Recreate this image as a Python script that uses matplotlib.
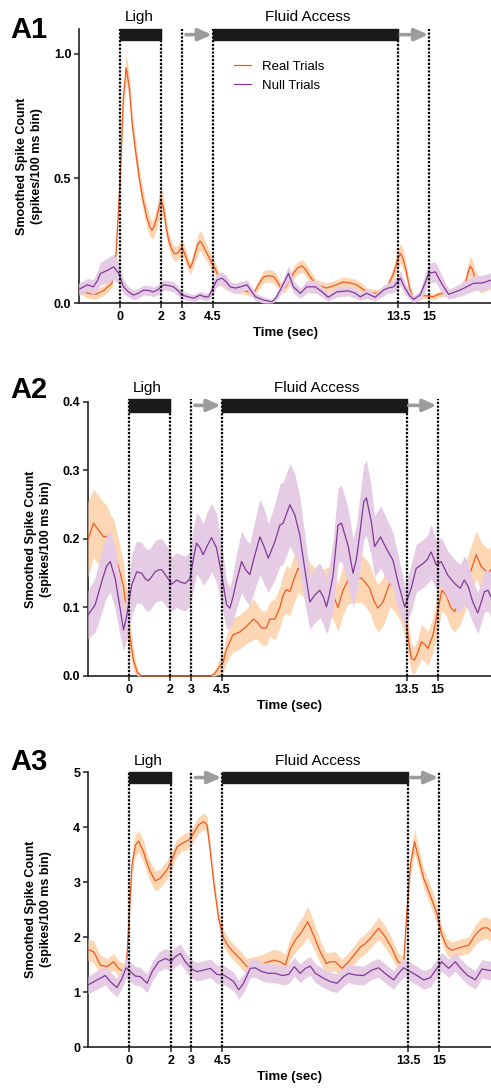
import matplotlib
matplotlib.use("Agg")
import matplotlib.pyplot as plt
from matplotlib.patches import Rectangle

plt.rcParams['font.family'] = ['Liberation Sans', 'DejaVu Sans']

# ---- data (time in sec) ----
event_ticks = [0, 2, 3, 4.5, 13.5, 15]
event_labels = ["0", "2", "3", "4.5", "13.5", "15"]

# A1
t_real_a1 = [-2.0, -1.6, -1.2, -0.8, -0.4, -0.2, 0.0, 0.15, 0.29, 0.45, 0.57, 0.7, 0.81, 0.93,
             1.05, 1.17, 1.29, 1.42, 1.54, 1.66, 1.78, 1.9, 1.98, 2.1, 2.22, 2.35, 2.48, 2.6,
             2.72, 2.83, 3.0, 3.12, 3.24, 3.4, 3.52, 3.64, 3.76, 3.88, 4.0, 4.13, 4.3, 4.45,
             4.6, 4.75, 5.0, 5.5, 6.0, 6.48, 6.72, 6.96, 7.2, 7.44, 7.6, 7.77, 8.0, 8.2, 8.41,
             8.6, 8.82, 9.0, 9.22, 9.5, 10.0, 10.4, 10.84, 11.2, 11.48, 11.7, 11.97, 12.4,
             12.78, 13.0, 13.27, 13.45, 13.6, 13.72, 13.83, 13.95, 14.07, 14.24, 14.45, 14.72,
             15.0, 15.2, 15.45, 15.7, 16.0, 16.2, 16.5, 16.75, 16.88, 16.99, 17.1, 17.2, 17.5,
             17.8, 18.0]
real_a1 = [0.06, 0.04, 0.035, 0.05, 0.08, 0.2, 0.5, 0.82, 0.945, 0.86, 0.73, 0.64, 0.57, 0.5,
           0.44, 0.39, 0.345, 0.31, 0.292, 0.31, 0.345, 0.39, 0.412, 0.385, 0.31, 0.252, 0.22, 0.2,
           0.198, 0.205, 0.225, 0.2, 0.172, 0.14, 0.165, 0.2, 0.235, 0.249, 0.235, 0.212, 0.185, 0.16,
           0.14, 0.11, 0.08, 0.06, 0.05, 0.039, 0.075, 0.105, 0.11, 0.106, 0.09, 0.065, 0.06, 0.09, 0.119,
           0.14, 0.149, 0.135, 0.105, 0.075, 0.06, 0.07, 0.085, 0.08, 0.073, 0.06, 0.045, 0.04,
           0.04, 0.07, 0.119, 0.17, 0.199, 0.18, 0.147, 0.1, 0.052, 0.019, 0.02, 0.03,
           0.028, 0.025, 0.035, 0.04, 0.045, 0.045, 0.055, 0.079, 0.12, 0.148, 0.135, 0.105, 0.065,
           0.075, 0.08]
real_sem_a1 = [0.02, 0.02, 0.02, 0.02, 0.02, 0.03, 0.04, 0.05, 0.055, 0.05, 0.05, 0.045, 0.045, 0.045,
               0.04, 0.04, 0.04, 0.04, 0.035, 0.04, 0.045, 0.05, 0.05, 0.045, 0.04, 0.035, 0.03, 0.03,
               0.03, 0.03, 0.035, 0.03, 0.03, 0.025, 0.03, 0.035, 0.04, 0.04, 0.04, 0.035, 0.03, 0.03,
               0.025, 0.025, 0.02, 0.02, 0.015, 0.015, 0.02, 0.025, 0.025, 0.025, 0.025, 0.02, 0.02, 0.025, 0.025,
               0.025, 0.025, 0.025, 0.025, 0.02, 0.02, 0.02, 0.02, 0.02, 0.02, 0.02, 0.015, 0.015,
               0.015, 0.02, 0.03, 0.035, 0.04, 0.04, 0.035, 0.03, 0.02, 0.01, 0.01, 0.012,
               0.012, 0.012, 0.012, 0.015, 0.015, 0.015, 0.02, 0.025, 0.035, 0.04, 0.04, 0.035, 0.025,
               0.025, 0.025]

t_null_a1 = [-2.0, -1.6, -1.3, -1.1, -0.97, -0.65, -0.32, -0.08, 0.16, 0.4, 0.65, 0.9, 1.13, 1.4,
             1.62, 1.85, 2.1, 2.35, 2.59, 2.8, 3.0, 3.3, 3.56, 3.88, 4.1, 4.29, 4.5, 4.69, 4.94,
             5.15, 5.34, 5.6, 5.83, 6.15, 6.35, 6.56, 6.96, 7.36, 7.55, 7.77, 8.0, 8.17, 8.41,
             8.74, 9.06, 9.47, 9.8, 10.1, 10.52, 11.08, 11.4, 11.65, 11.97, 12.38, 12.78, 13.0,
             13.27, 13.6, 13.83, 14.05, 14.24, 14.56, 14.8, 14.97, 15.3, 15.6, 15.94, 16.5,
             17.15, 17.6, 18.0]
null_a1 = [0.055, 0.073, 0.065, 0.09, 0.118, 0.13, 0.145, 0.12, 0.065, 0.045, 0.032, 0.04, 0.052, 0.05,
           0.045, 0.055, 0.073, 0.07, 0.065, 0.05, 0.032, 0.025, 0.019, 0.032, 0.025, 0.025, 0.06, 0.092, 0.1,
           0.085, 0.065, 0.06, 0.065, 0.073, 0.05, 0.025, 0.012, 0.005, 0.02, 0.052, 0.09, 0.119, 0.065,
           0.039, 0.065, 0.065, 0.045, 0.023, 0.045, 0.049, 0.04, 0.025, 0.039, 0.023, 0.052, 0.06,
           0.065, 0.1, 0.059, 0.03, 0.015, 0.032, 0.08, 0.119, 0.125, 0.079, 0.035, 0.052,
           0.079, 0.081, 0.092]
null_sem_a1 = [0.025, 0.025, 0.03, 0.04, 0.045, 0.05, 0.05, 0.045, 0.03, 0.02, 0.02, 0.02, 0.02, 0.02,
               0.02, 0.02, 0.02, 0.02, 0.02, 0.02, 0.015, 0.015, 0.015, 0.015, 0.015, 0.015, 0.025, 0.025, 0.025,
               0.025, 0.02, 0.02, 0.02, 0.02, 0.02, 0.015, 0.012, 0.01, 0.012, 0.02, 0.025, 0.03, 0.025,
               0.02, 0.025, 0.025, 0.02, 0.015, 0.02, 0.02, 0.02, 0.015, 0.02, 0.015, 0.02, 0.02,
               0.025, 0.03, 0.025, 0.015, 0.012, 0.02, 0.035, 0.04, 0.04, 0.035, 0.02, 0.025,
               0.03, 0.03, 0.03]

# A2
t_real_a2 = [-2.0, -1.73, -1.49, -1.24, -1.08, -0.9, -0.76, -0.52, -0.27, -0.03, 0.21, 0.4, 0.6,
             1.5, 2.5, 3.5, 3.95, 4.15, 4.4, 4.58, 4.72, 5.05, 5.37, 5.7, 6.04, 6.25, 6.44, 6.68,
             6.84, 7.09, 7.33, 7.49, 7.65, 7.82, 8.0, 8.22, 8.5, 8.8, 9.1, 9.4, 9.76, 9.99, 10.16,
             10.4, 10.65, 10.89, 11.29, 11.5, 11.7, 11.9, 12.1, 12.35, 12.67, 12.9, 13.2, 13.48,
             13.6, 13.72, 13.88, 14.05, 14.21, 14.38, 14.53, 14.77, 15.0, 15.21, 15.42, 15.66,
             15.83, 16.1, 16.4, 16.72, 16.88, 17.12, 17.45, 17.6]
real_a2 = [0.199, 0.223, 0.213, 0.203, 0.204, 0.19, 0.184, 0.16, 0.13, 0.072, 0.023, 0.005, 0.0,
           0.0, 0.0, 0.0, 0.0, 0.003, 0.014, 0.02, 0.038, 0.06, 0.064, 0.072, 0.083, 0.078, 0.07, 0.07,
           0.083, 0.083, 0.1, 0.118, 0.126, 0.123, 0.14, 0.157, 0.15, 0.13, 0.12, 0.12, 0.125, 0.113, 0.1,
           0.125, 0.14, 0.142, 0.143, 0.136, 0.128, 0.11, 0.099, 0.108, 0.135, 0.13, 0.11, 0.079,
           0.05, 0.026, 0.023, 0.035, 0.05, 0.046, 0.04, 0.059, 0.093, 0.125, 0.118, 0.099,
           0.094, 0.11, 0.135, 0.162, 0.177, 0.16, 0.15, 0.155]
real_sem_a2 = [0.055, 0.05, 0.05, 0.05, 0.045, 0.045, 0.045, 0.04, 0.035, 0.03, 0.015, 0.005, 0.0,
               0.0, 0.0, 0.0, 0.0, 0.005, 0.012, 0.015, 0.02, 0.025, 0.025, 0.025, 0.03, 0.025, 0.025, 0.025,
               0.025, 0.03, 0.03, 0.03, 0.035, 0.035, 0.035, 0.035, 0.035, 0.035, 0.035, 0.035, 0.035, 0.035, 0.035,
               0.035, 0.035, 0.035, 0.035, 0.035, 0.035, 0.035, 0.035, 0.035, 0.035, 0.035, 0.03, 0.03,
               0.025, 0.02, 0.02, 0.02, 0.025, 0.025, 0.025, 0.025, 0.03, 0.03, 0.03, 0.03,
               0.03, 0.035, 0.035, 0.035, 0.035, 0.035, 0.035, 0.035]

t_null_a2 = [-2.0, -1.65, -1.33, -1.1, -0.92, -0.68, -0.44, -0.27, -0.11, 0.13, 0.37, 0.61, 0.78,
             0.94, 1.1, 1.26, 1.45, 1.59, 1.83, 2.07, 2.31, 2.5, 2.72, 2.96, 3.12, 3.28, 3.45, 3.6,
             3.8, 4.01, 4.25, 4.5, 4.74, 4.9, 5.05, 5.22, 5.47, 5.67, 5.87, 6.1, 6.36, 6.55, 6.77,
             7.09, 7.33, 7.49, 7.82, 8.06, 8.3, 8.54, 8.79, 9.03, 9.27, 9.45, 9.6, 9.75, 9.92,
             10.16, 10.33, 10.65, 10.89, 11.05, 11.21, 11.41, 11.54, 11.78, 11.94, 12.23, 12.51,
             12.83, 13.07, 13.4, 13.72, 13.96, 14.29, 14.5, 14.69, 14.94, 15.18, 15.5, 15.83,
             16.1, 16.3, 16.5, 16.7, 16.96, 17.28, 17.45, 17.6]
null_a2 = [0.089, 0.104, 0.138, 0.16, 0.167, 0.143, 0.099, 0.067, 0.089, 0.133, 0.152, 0.15, 0.142,
           0.139, 0.145, 0.152, 0.155, 0.155, 0.145, 0.134, 0.14, 0.137, 0.135, 0.142, 0.17, 0.194, 0.187, 0.177,
           0.19, 0.202, 0.187, 0.148, 0.104, 0.099, 0.115, 0.138, 0.167, 0.155, 0.148, 0.175, 0.203, 0.19, 0.172,
           0.196, 0.22, 0.223, 0.25, 0.235, 0.206, 0.157, 0.108, 0.118, 0.125, 0.115, 0.101, 0.12, 0.147,
           0.22, 0.223, 0.19, 0.15, 0.17, 0.205, 0.254, 0.26, 0.225, 0.189, 0.203, 0.186,
           0.169, 0.138, 0.101, 0.128, 0.157, 0.164, 0.17, 0.181, 0.162, 0.167, 0.147, 0.135,
           0.128, 0.14, 0.13, 0.109, 0.092, 0.123, 0.125, 0.115]
null_sem_a2 = [0.035, 0.04, 0.045, 0.045, 0.045, 0.045, 0.04, 0.03, 0.035, 0.045, 0.045, 0.045, 0.045,
               0.045, 0.045, 0.045, 0.045, 0.045, 0.045, 0.04, 0.04, 0.04, 0.04, 0.04, 0.045, 0.045, 0.045, 0.045,
               0.05, 0.05, 0.05, 0.045, 0.035, 0.03, 0.035, 0.04, 0.045, 0.045, 0.045, 0.05, 0.055, 0.055, 0.05,
               0.055, 0.06, 0.06, 0.06, 0.06, 0.055, 0.05, 0.04, 0.04, 0.04, 0.04, 0.04, 0.045, 0.05,
               0.055, 0.055, 0.055, 0.05, 0.05, 0.055, 0.055, 0.055, 0.05, 0.045, 0.045, 0.045,
               0.04, 0.04, 0.03, 0.035, 0.035, 0.035, 0.035, 0.04, 0.035, 0.035, 0.035, 0.035,
               0.035, 0.035, 0.035, 0.03, 0.03, 0.03, 0.03, 0.03]

# A3
t_real_a3 = [-2.0, -1.72, -1.4, -1.08, -0.76, -0.52, -0.27, -0.12, -0.02, 0.13, 0.29, 0.45, 0.69,
             0.85, 1.01, 1.26, 1.5, 1.82, 2.06, 2.31, 2.63, 2.87, 3.11, 3.35, 3.6, 3.76, 3.92,
             4.08, 4.32, 4.56, 4.81, 5.05, 5.37, 5.69, 6.02, 6.5, 6.98, 7.3, 7.55, 7.79, 8.03,
             8.35, 8.63, 8.92, 9.24, 9.53, 9.72, 9.97, 10.29, 10.61, 10.93, 11.18, 11.42, 11.66,
             12.06, 12.39, 12.71, 13.0, 13.27, 13.43, 13.6, 13.8, 14.0, 14.24, 14.56, 14.88,
             15.12, 15.37, 15.61, 16.01, 16.42, 16.74, 17.06, 17.3, 17.5]
real_a3 = [1.77, 1.73, 1.49, 1.46, 1.55, 1.43, 1.36, 1.6, 2.3, 3.31, 3.67, 3.745, 3.55,
           3.35, 3.19, 3.02, 3.07, 3.22, 3.4, 3.64, 3.72, 3.76, 3.885, 4.04, 4.1, 4.04, 3.55,
           3.0, 2.34, 1.98, 1.82, 1.72, 1.6, 1.46, 1.49, 1.52, 1.58, 1.55, 1.49, 1.79, 1.945,
           2.1, 2.28, 2.03, 1.73, 1.52, 1.55, 1.55, 1.43, 1.55, 1.7, 1.82, 1.88, 1.975,
           2.16, 2.0, 1.79, 1.55, 1.5, 2.46, 3.31, 3.73, 3.43, 3.07, 2.76, 2.43,
           2.04, 1.82, 1.76, 1.81, 1.85, 2.04, 2.16, 2.17, 2.11]
real_sem_a3 = [0.2, 0.2, 0.18, 0.15, 0.15, 0.15, 0.15, 0.15, 0.15, 0.18, 0.2, 0.2, 0.2,
               0.18, 0.18, 0.18, 0.17, 0.17, 0.17, 0.15, 0.15, 0.15, 0.15, 0.15, 0.15, 0.15, 0.15,
               0.15, 0.15, 0.15, 0.15, 0.15, 0.15, 0.15, 0.15, 0.17, 0.2, 0.2, 0.2, 0.2, 0.22,
               0.25, 0.28, 0.25, 0.2, 0.18, 0.18, 0.18, 0.17, 0.17, 0.17, 0.18, 0.18, 0.18,
               0.2, 0.2, 0.18, 0.15, 0.15, 0.18, 0.2, 0.22, 0.2, 0.18, 0.18, 0.18,
               0.15, 0.15, 0.15, 0.15, 0.15, 0.18, 0.2, 0.2, 0.2]

t_null_a3 = [-2.0, -1.56, -1.16, -0.92, -0.6, -0.35, -0.16, 0.05, 0.29, 0.53, 0.86, 1.1, 1.42,
             1.74, 2.03, 2.22, 2.47, 2.71, 3.03, 3.27, 3.6, 3.92, 4.24, 4.56, 4.81, 5.05, 5.29,
             5.53, 5.85, 6.09, 6.42, 6.74, 7.06, 7.39, 7.71, 7.98, 8.27, 8.52, 8.76, 9.0, 9.4,
             9.72, 10.05, 10.37, 10.61, 10.93, 11.34, 11.74, 12.06, 12.47, 12.79, 13.03, 13.27,
             13.6, 13.92, 14.24, 14.56, 14.88, 15.12, 15.45, 15.77, 16.01, 16.34, 16.74, 17.06,
             17.3, 17.5]
null_a3 = [1.127, 1.22, 1.3, 1.19, 1.08, 1.25, 1.44, 1.37, 1.29, 1.28, 1.16, 1.37, 1.55,
           1.61, 1.56, 1.64, 1.7, 1.55, 1.42, 1.37, 1.4, 1.43, 1.32, 1.31, 1.25, 1.19, 1.04,
           1.16, 1.43, 1.44, 1.37, 1.34, 1.34, 1.3, 1.32, 1.46, 1.34, 1.43, 1.47, 1.34, 1.25,
           1.19, 1.16, 1.28, 1.34, 1.31, 1.3, 1.4, 1.44, 1.31, 1.22, 1.34, 1.44,
           1.37, 1.3, 1.22, 1.26, 1.43, 1.55, 1.43, 1.55, 1.44, 1.31, 1.22, 1.42,
           1.4, 1.39]
null_sem_a3 = [0.16, 0.17, 0.17, 0.17, 0.17, 0.17, 0.18, 0.18, 0.17, 0.17, 0.17, 0.17, 0.17,
               0.18, 0.18, 0.18, 0.18, 0.17, 0.17, 0.17, 0.17, 0.17, 0.17, 0.17, 0.17, 0.17, 0.17,
               0.17, 0.17, 0.17, 0.17, 0.17, 0.17, 0.17, 0.17, 0.17, 0.17, 0.17, 0.17, 0.17, 0.17,
               0.17, 0.17, 0.17, 0.17, 0.17, 0.17, 0.17, 0.17, 0.17, 0.17, 0.17, 0.17,
               0.17, 0.17, 0.17, 0.17, 0.17, 0.17, 0.17, 0.17, 0.17, 0.17, 0.17, 0.17,
               0.17, 0.17]

# colours
REAL_LINE = '#f05a22'
REAL_BAND = '#fdd6b3'
NULL_LINE = '#7f3a9a'
NULL_BAND = '#e6cbe4'


def band(ax, t, m, s, line_col, band_col, z, label):
    lo = [max(a - b, 0) for a, b in zip(m, s)]
    hi = [a + b for a, b in zip(m, s)]
    ax.fill_between(t, lo, hi, color=band_col, lw=0, zorder=z)
    # clip_on False so a trace sitting on zero is not cut in half by the axes edge
    ax.plot(t, m, color=line_col, lw=0.9, zorder=z + 0.5, label=label,
            solid_joinstyle='round', clip_on=False)


def panel(ax, data, ylim, yticks, yticklabels, xlim, bar_y, text_y, ylab_x):
    t_r, r, rs, t_n, n, ns = data
    band(ax, t_r, r, rs, REAL_LINE, REAL_BAND, 1, 'Real Trials')
    band(ax, t_n, n, ns, NULL_LINE, NULL_BAND, 3, 'Null Trials')

    ax.set_xlim(*xlim)
    ax.set_ylim(*ylim)
    ax.set_yticks(yticks)
    ax.set_yticklabels(yticklabels)
    ax.set_xticks(event_ticks)
    ax.set_xticklabels(event_labels)

    for s in ['top', 'right']:
        ax.spines[s].set_visible(False)
    for s in ['left', 'bottom']:
        ax.spines[s].set_linewidth(1.2)
        ax.spines[s].set_color('#222222')
        ax.spines[s].set_zorder(0.5)
    ax.tick_params(direction='out', length=3.5, width=1.1, color='#222222', labelsize=9, pad=2)
    for lab in ax.get_xticklabels() + ax.get_yticklabels():
        lab.set_fontweight('bold')

    trans = ax.get_xaxis_transform()
    # event lines
    for x in event_ticks:
        ax.plot([x, x], [0, bar_y[1]], transform=trans, color='black', lw=1.6,
                ls=(0, (1, 0.7)), clip_on=False, zorder=6)
    # black bars for light and fluid access
    for x0, x1 in [(0, 2), (4.5, 13.5)]:
        ax.add_patch(Rectangle((x0, bar_y[0]), x1 - x0, bar_y[1] - bar_y[0], transform=trans,
                               color='#1a1a1a', clip_on=False, zorder=7))
    ym = (bar_y[0] + bar_y[1]) / 2
    for x0, x1 in [(3.2, 4.45), (13.6, 14.95)]:
        ax.annotate('', xy=(x1, ym), xytext=(x0, ym), xycoords=trans, textcoords=trans,
                    arrowprops=dict(arrowstyle='-|>,head_length=0.8,head_width=0.36',
                                    color='#9c9c9c', lw=2.6, shrinkA=0, shrinkB=0),
                    annotation_clip=False, zorder=7)
    ax.text(0.9, text_y, 'Ligh', transform=trans, ha='center', va='center', fontsize=11)
    ax.text(9.1, text_y, 'Fluid Access', transform=trans, ha='center', va='center', fontsize=11)

    ax.set_xlabel('Time (sec)', fontsize=9.5, fontweight='bold', labelpad=3)
    ax.set_ylabel('Smoothed Spike Count\n(spikes/100 ms bin)', fontsize=9, fontweight='bold',
                  linespacing=1.3)
    ax.yaxis.set_label_coords(ylab_x, 0.5)


fig = plt.figure(figsize=(4.91, 10.92), dpi=100)
ax1 = fig.add_axes([0.1609, 0.7225, 0.8391, 0.2509])
ax2 = fig.add_axes([0.1792, 0.3810, 0.8208, 0.2509])
ax3 = fig.add_axes([0.1792, 0.0412, 0.8208, 0.2518])

panel(ax1, (t_real_a1, real_a1, real_sem_a1, t_null_a1, null_a1, null_sem_a1),
      (0, 1.1), [0, 0.5, 1.0], ["0.0", "0.5", "1.0"], (-2, 18.0),
      (0.959, 1.0), 1.045, -0.087)
panel(ax2, (t_real_a2, real_a2, real_sem_a2, t_null_a2, null_a2, null_sem_a2),
      (0, 0.4), [0, 0.1, 0.2, 0.3, 0.4], ["0.0", "0.1", "0.2", "0.3", "0.4"], (-2, 17.6),
      (0.9625, 1.0125), 1.05, -0.089)
panel(ax3, (t_real_a3, real_a3, real_sem_a3, t_null_a3, null_a3, null_sem_a3),
      (0, 5), [0, 1, 2, 3, 4, 5], ["0", "1", "2", "3", "4", "5"], (-2, 17.5),
      (0.96, 1.0), 1.04, -0.089)

ax1.legend(loc='upper left', bbox_to_anchor=(0.377, 0.885), frameon=False, fontsize=9.5,
           handlelength=1.3, handletextpad=0.8, labelspacing=0.5, borderpad=0, borderaxespad=0)

fig.text(0.0204, 0.9725, 'A1', fontsize=21, fontweight='bold', ha='left', va='center')
fig.text(0.0204, 0.6429, 'A2', fontsize=21, fontweight='bold', ha='left', va='center')
fig.text(0.0204, 0.3022, 'A3', fontsize=21, fontweight='bold', ha='left', va='center')

fig.savefig('out.png', dpi=100)
